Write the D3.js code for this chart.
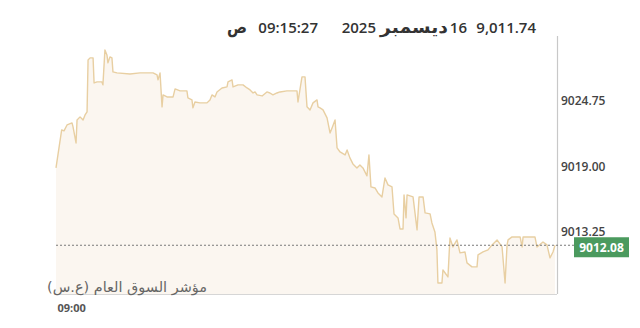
<!DOCTYPE html>
<html>
<head>
<meta charset="utf-8">
<script src="https://cdn.jsdelivr.net/npm/d3@7"></script>
<style>
  body { margin: 0; background: #fff; }
  svg { display: block; font-family: "Open Sans", "DejaVu Sans", sans-serif; }
</style>
</head>
<body>
<div id="chart"></div>
<script>
// data: minutes after the open, index level
var minutes = [0, 3.4, 4.8, 6.6, 9.6, 10.2, 12.0, 12.6, 14.4, 16.2, 17.4, 18.6, 19.2, 20.4, 22.2, 22.8,
  24.6, 27.5, 28.1, 29.3, 30.5, 31.1, 32.3, 33.5, 34.1, 36.5, 44.3, 50.3, 58.1, 60.5, 61.1, 62.3,
  63.5, 64.1, 66.5, 70.1, 71.3, 74.3, 78.4, 79.0, 81.4, 82.0, 83.2, 86.2, 90.4, 92.2, 93.4, 95.2,
  96.4, 99.4, 102.4, 103.0, 105.4, 106.0, 109.0, 112.0, 114.4, 116.2, 118.0, 119.2, 120.4, 123.4,
  126.3, 128.1, 129.9, 132.3, 134.1, 138.3, 144.3, 144.9, 147.3, 149.1, 150.3, 152.1, 153.9, 156.3,
  156.9, 158.1, 159.9, 162.3, 164.1, 165.3, 167.1, 168.3, 170.1, 173.1, 174.3, 176.0, 177.8, 180.2,
  182.0, 183.8, 186.2, 187.4, 188.6, 191.0, 192.8, 195.2, 197.0, 198.8, 201.2, 202.4, 204.8, 206.0,
  207.8, 208.4, 209.6, 210.2, 213.8, 216.2, 217.4, 219.8, 221.0, 224.0, 225.1, 226.9, 228.1, 228.7,
  231.1, 231.7, 234.7, 235.9, 237.7, 240.1, 241.9, 244.9, 246.1, 249.1, 252.1, 252.7, 255.7, 258.7,
  261.1, 264.1, 267.1, 268.9, 270.1, 270.7, 273.1, 277.9, 279.1, 279.7, 286.8, 288.0, 291.6, 294.0,
  295.8, 297.6, 298.8];

var levels = [9018.87, 9022.21, 9022.12, 9022.64, 9022.82, 9022.47, 9021.06, 9023.08, 9023.35, 9023.08,
  9023.52, 9023.79, 9028.35, 9028.53, 9028.53, 9026.33, 9026.42, 9026.42, 9026.16, 9029.23, 9028.79,
  9028.09, 9028.62, 9028.53, 9027.30, 9027.21, 9027.12, 9027.21, 9027.21, 9027.03, 9026.60, 9027.21,
  9024.23, 9025.28, 9025.10, 9025.10, 9025.81, 9025.63, 9025.63, 9025.02, 9024.84, 9024.14, 9024.66,
  9024.58, 9024.58, 9024.84, 9025.28, 9025.10, 9025.54, 9025.89, 9025.98, 9026.42, 9026.60, 9025.98,
  9026.16, 9026.16, 9025.89, 9025.72, 9025.45, 9025.54, 9025.28, 9025.19, 9025.54, 9025.45, 9025.28,
  9025.45, 9025.54, 9025.63, 9025.63, 9024.66, 9026.86, 9026.86, 9024.23, 9023.96, 9024.58, 9024.84,
  9024.23, 9024.14, 9023.96, 9023.26, 9021.94, 9022.38, 9023.08, 9020.63, 9020.27, 9020.01, 9020.45,
  9019.75, 9019.22, 9018.87, 9019.13, 9018.87, 9018.17, 9020.01, 9017.20, 9017.11, 9016.67, 9016.32,
  9017.99, 9017.38, 9017.20, 9014.83, 9014.48, 9013.51, 9013.51, 9016.50, 9014.48, 9016.50, 9016.32,
  9013.43, 9016.32, 9016.32, 9014.92, 9014.83, 9014.04, 9013.25, 9011.67, 9008.77, 9008.77, 9009.91,
  9009.30, 9012.72, 9011.93, 9012.55, 9011.41, 9011.49, 9010.53, 9010.18, 9010.18, 9011.23, 9011.49,
  9011.67, 9012.11, 9012.55, 9011.93, 9008.77, 9012.11, 9012.55, 9012.81, 9012.81, 9011.93, 9012.81,
  9012.81, 9011.93, 9012.37, 9012.11, 9010.97, 9011.49, 9012.08];

var yTicks = [9013.25, 9019.00, 9024.75];
var xTicks = [0];
var xTickLabels = ["09:00"];
var lastValue = 9012.08;
var headerValue = "9,011.74";
var headerDay = "16";
var headerMonth = "ديسمبر";
var headerYear = "2025";
var headerTime = "09:15:27";
var headerPeriod = "ص";
var indexName = "مؤشر السوق العام (ع.س)";

var width = 640, height = 328;
var margin = {top: 40, right: 83, bottom: 34, left: 56};

var data = minutes.map(function(m, i) { return {t: m, v: levels[i]}; });

var x = d3.scaleLinear()
  .domain([0, 300])
  .range([margin.left, width - margin.right]);

var y = d3.scaleLinear()
  .domain([9007.8, 9030.1])
  .range([height - margin.bottom, margin.top]);

var svg = d3.select("#chart")
  .append("svg")
  .attr("width", width)
  .attr("height", height);

// area + line
var area = d3.area()
  .x(function(d) { return x(d.t); })
  .y0(y.range()[0])
  .y1(function(d) { return y(d.v); });

var line = d3.line()
  .x(function(d) { return x(d.t); })
  .y(function(d) { return y(d.v); });

svg.append("path")
  .datum(data)
  .attr("fill", "#fbf6f0")
  .attr("d", area);

svg.append("path")
  .datum(data)
  .attr("fill", "none")
  .attr("stroke", "#e8cfa2")
  .attr("stroke-width", 1.4)
  .attr("stroke-linejoin", "round")
  .attr("d", line);

// baseline + right axis line
svg.append("line")
  .attr("x1", x.range()[0]).attr("x2", x.range()[1])
  .attr("y1", y.range()[0] + 0.5).attr("y2", y.range()[0] + 0.5)
  .attr("stroke", "#d6d6d6");

svg.append("line")
  .attr("x1", x.range()[1] + 0.5).attr("x2", x.range()[1] + 0.5)
  .attr("y1", 36).attr("y2", y.range()[0])
  .attr("stroke", "#c8c8c8")
  .attr("stroke-width", 1.2);

// y axis
var yAxis = svg.append("g")
  .attr("transform", "translate(" + x.range()[1] + ",0)")
  .call(d3.axisRight(y).tickValues(yTicks).tickSize(0).tickPadding(4).tickFormat(d3.format(".2f")));
yAxis.select(".domain").remove();
yAxis.selectAll("text")
  .attr("font-family", "Open Sans, sans-serif")
  .attr("font-size", 12)
  .attr("font-weight", 600)
  .attr("fill", "#444");

// x axis
var xAxis = svg.append("g")
  .attr("transform", "translate(0," + (y.range()[0] + 10) + ")")
  .call(d3.axisBottom(x).tickValues(xTicks).tickSize(0).tickPadding(0)
    .tickFormat(function(d, i) { return xTickLabels[i]; }));
xAxis.select(".domain").remove();
xAxis.selectAll("text")
  .attr("text-anchor", "start")
  .attr("dx", 1)
  .attr("font-family", "Open Sans, sans-serif")
  .attr("font-size", 11)
  .attr("font-weight", 700)
  .attr("fill", "#555");

// last value dotted line + tag
svg.append("line")
  .attr("x1", x.range()[0]).attr("x2", 574)
  .attr("y1", y(lastValue)).attr("y2", y(lastValue))
  .attr("stroke", "#7a7a7a")
  .attr("stroke-dasharray", "2,2");

svg.append("rect")
  .attr("x", 574).attr("y", y(lastValue) - 8)
  .attr("width", 55).attr("height", 20)
  .attr("fill", "#4b9a5e");

svg.append("text")
  .attr("x", 601.5).attr("y", y(lastValue) + 6.5)
  .attr("text-anchor", "middle")
  .attr("font-family", "Open Sans, sans-serif")
  .attr("font-size", 12)
  .attr("font-weight", 700)
  .attr("fill", "#fff")
  .text(d3.format(".2f")(lastValue));

// index name
svg.append("text")
  .attr("x", 47).attr("y", 292)
  .attr("font-family", "DejaVu Sans, sans-serif")
  .attr("font-size", 14)
  .attr("fill", "#666")
  .attr("textLength", 160)
  .attr("lengthAdjust", "spacingAndGlyphs")
  .text(indexName);

// header
var header = svg.append("g")
  .attr("font-family", "Open Sans, DejaVu Sans, sans-serif")
  .attr("font-size", 15)
  .attr("font-weight", 600)
  .attr("fill", "#333");

[[headerValue, 536], [headerDay, 467], [headerYear, 376], [headerTime, 318]].forEach(function(h) {
  header.append("text")
    .attr("x", h[1]).attr("y", 33)
    .attr("text-anchor", "end")
    .text(h[0]);
});

// arabic words, stretched to the reference widths
[[headerMonth, 380, 68], [headerPeriod, 227, 20]].forEach(function(h) {
  header.append("text")
    .attr("x", h[1]).attr("y", 33)
    .attr("font-family", "DejaVu Sans, sans-serif")
    .attr("font-size", 17)
    .attr("font-weight", 700)
    .attr("textLength", h[2])
    .attr("lengthAdjust", "spacingAndGlyphs")
    .text(h[0]);
});
</script>
</body>
</html>
